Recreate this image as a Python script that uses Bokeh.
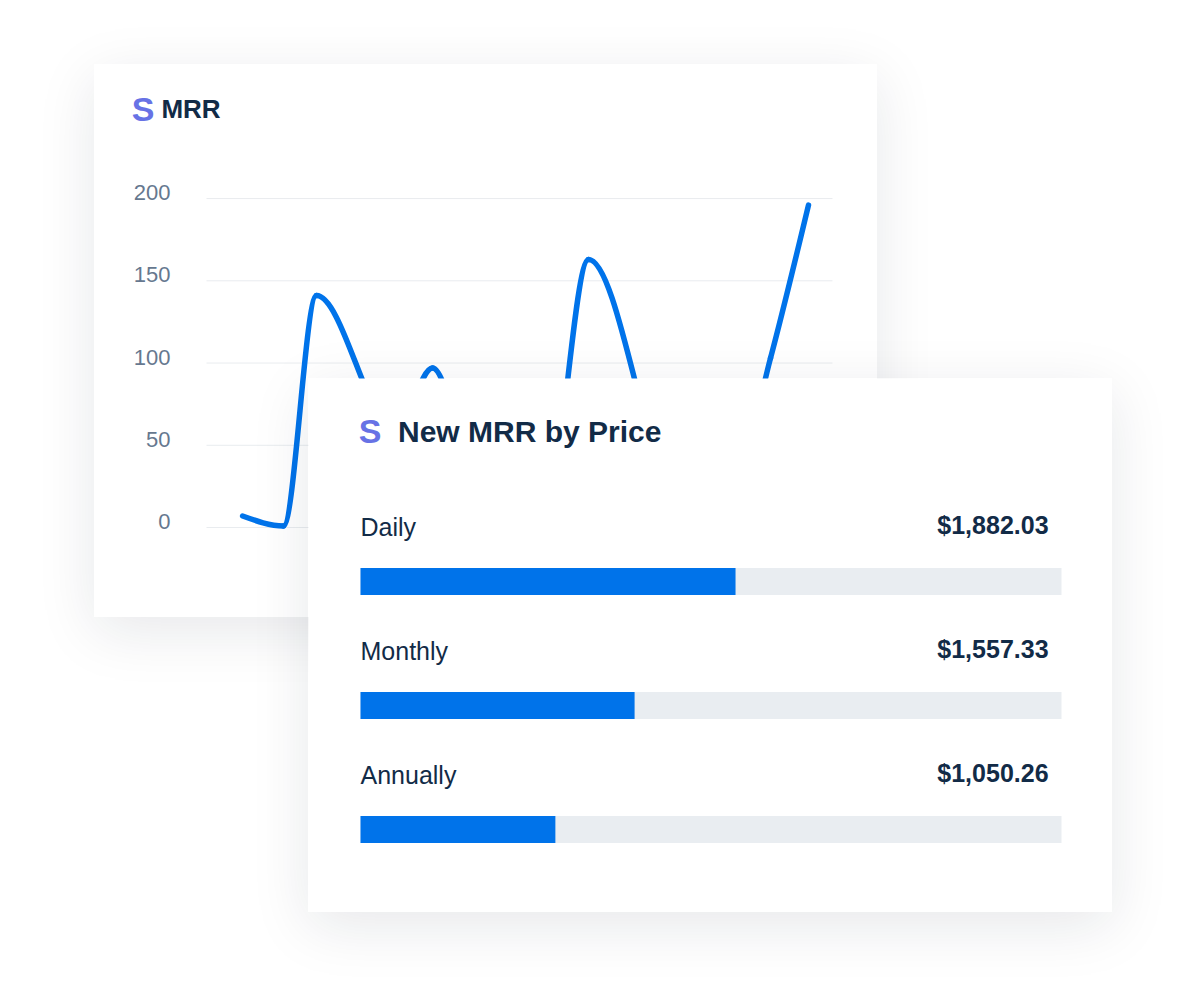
import numpy as np
from bokeh.plotting import figure
from bokeh.models import Range1d, ColumnDataSource
from bokeh.layouts import column
from bokeh.embed import file_html
from bokeh.resources import INLINE
from bokeh.core.properties import value

# ---------------- data ----------------
mrr_day = [1.73, 3.69, 5.27, 9.06, 10.83, 13.13, 16.25, 18.31, 22.48, 24.63, 27.03, 28.85]
mrr_value = [7, 1, 141, 58, 97, 20, 10, 163, 15, 0, 103, 196]
mrr_ticks = [0, 50, 100, 150, 200]
mrr_day_span = [0, 30]

price_plans = ["Daily", "Monthly", "Annually"]
price_amounts = [1882.03, 1557.33, 1050.26]
price_bar_pct = [53.5, 39.1, 27.8]

FONT = "Liberation Sans"
NAVY = "#122b47"
BLUE = "#0073ea"
LOGO = "#6772e5"
TICK = "#66788f"
SHADOW = "0 14px 55px rgba(20,30,50,0.10)"


def monotone_slopes(x, y):
    x = np.asarray(x, float)
    y = np.asarray(y, float)
    n = len(x)
    h = np.diff(x)
    s = np.diff(y) / h
    m = np.zeros(n)
    for i in range(1, n - 1):
        p = (s[i - 1] * h[i] + s[i] * h[i - 1]) / (h[i - 1] + h[i])
        m[i] = (np.sign(s[i - 1]) + np.sign(s[i])) * min(abs(s[i - 1]), abs(s[i]), 0.5 * abs(p))
    m[0] = (3 * s[0] - m[1]) / 2
    m[-1] = (3 * s[-1] - m[-2]) / 2
    if np.sign(m[0]) != np.sign(s[0]):
        m[0] = 0
    if np.sign(m[-1]) != np.sign(s[-1]):
        m[-1] = 0
    return m


xs = np.asarray(mrr_day, float)
ys = np.asarray(mrr_value, float)
ms = monotone_slopes(xs, ys)
dx = np.diff(xs) / 3.0
seg = ColumnDataSource(dict(
    x0=xs[:-1], y0=ys[:-1], x1=xs[1:], y1=ys[1:],
    cx0=xs[:-1] + dx, cy0=ys[:-1] + dx * ms[:-1],
    cx1=xs[1:] - dx, cy1=ys[1:] - dx * ms[1:],
))

# ---------------- card 1 : MRR ----------------
p1 = figure(width=783, height=553, x_range=Range1d(-5.367, 32.157), y_range=Range1d(-54.7, 281.5),
            output_backend="svg", toolbar_location=None,
            x_axis_location=None, y_axis_location=None, min_border=0)
p1.outline_line_color = None
p1.grid.visible = False
p1.background_fill_color = "white"
p1.border_fill_color = "white"

ticks = ColumnDataSource(dict(
    y=mrr_ticks, label=[str(t) for t in mrr_ticks],
    x0=[mrr_day_span[0]] * len(mrr_ticks), x1=[mrr_day_span[1]] * len(mrr_ticks),
))
p1.segment(x0="x0", x1="x1", y0="y", y1="y", source=ticks, line_color="#e9ecef", line_width=1)
p1.text(x=-1.725, y="y", text="label", source=ticks, text_font=value(FONT), text_font_size="22px",
        text_color=TICK, text_align="right", text_baseline="middle", y_offset=-6)

p1.bezier(x0="x0", y0="y0", x1="x1", y1="y1", cx0="cx0", cy0="cy0", cx1="cx1", cy1="cy1",
          source=seg, line_color=BLUE, line_width=5.5, line_cap="round")

p1.text(x=[-3.58], y=[254.7], text=["S"], text_font=value(FONT), text_font_style="bold",
        text_font_size="34px", text_color=LOGO, text_baseline="middle", text_align="left")
p1.text(x=[-2.16], y=[254.7], text=["MRR"], text_font=value(FONT), text_font_style="bold",
        text_font_size="26px", text_color=NAVY, text_baseline="middle", text_align="left")
p1.margin = (64, 0, 0, 94)
p1.styles = {"box-shadow": SHADOW}

# ---------------- card 2 : New MRR by Price ----------------
rows = np.arange(len(price_plans))
p2 = figure(width=804, height=534, x_range=Range1d(-7.418, 107.275), y_range=Range1d(2.669, -1.637),
            output_backend="svg", toolbar_location=None,
            x_axis_location=None, y_axis_location=None, min_border=0)
p2.outline_line_color = None
p2.grid.visible = False
p2.background_fill_color = "white"
p2.border_fill_color = "white"

src = ColumnDataSource(dict(
    row=rows, pct=price_bar_pct, full=[100] * len(rows), plan=price_plans,
    amount=[f"${v:,.2f}" for v in price_amounts],
    label_y=rows - 0.44, amount_y=rows - 0.455,
))
p2.hbar(y="row", left=0, right="full", height=0.218, source=src, fill_color="#e9edf1", line_color=None)
p2.hbar(y="row", left=0, right="pct", height=0.218, source=src, fill_color=BLUE, line_color=None)
p2.text(x=0, y="label_y", text="plan", source=src, text_font=value(FONT), text_font_size="25px",
        text_color=NAVY, text_baseline="middle", text_align="left")
p2.text(x=98.15, y="amount_y", text="amount", source=src, text_font=value(FONT),
        text_font_size="25px", text_font_style="bold", text_color=NAVY,
        text_baseline="middle", text_align="right")

p2.text(x=[-0.25], y=[-1.21], text=["S"], text_font=value(FONT), text_font_style="bold",
        text_font_size="34px", text_color=LOGO, text_baseline="middle", text_align="left")
p2.text(x=[5.35], y=[-1.21], text=["New MRR by Price"], text_font=value(FONT), text_font_style="bold",
        text_font_size="30px", text_color=NAVY, text_baseline="middle", text_align="left")
p2.margin = (-239, 0, 0, 308)
p2.styles = {"box-shadow": SHADOW}

root = column(p1, p2)
open("out.html", "w").write(file_html(root, INLINE))
